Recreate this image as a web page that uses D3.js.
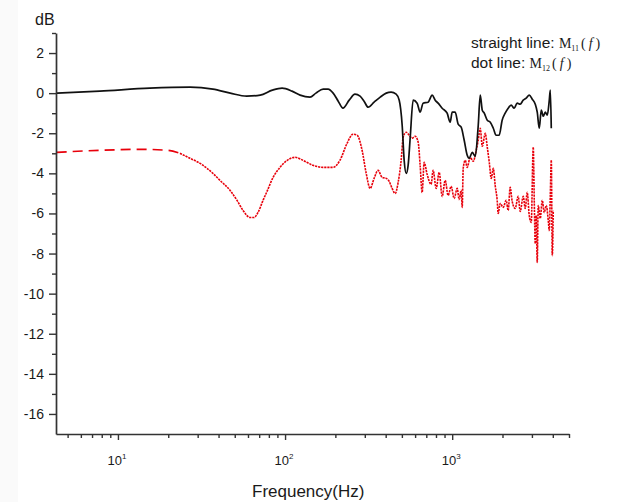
<!DOCTYPE html>
<html><head><meta charset="utf-8">
<script src="https://cdn.jsdelivr.net/npm/d3@7"></script>
<style>body{margin:0;background:#fff}svg{display:block}</style>
</head><body>
<svg id="chart" width="641" height="502"></svg>
<script>
// ---- data ----
const freqM11 = [4.3, 7.8, 15.5, 27, 37, 47, 59, 71, 84, 96, 110, 123, 141, 153, 169, 181, 194, 208, 222, 242, 262, 281, 297, 314, 341, 371, 403, 431, 462, 482, 502, 516, 531, 545, 561, 584, 617, 643, 670, 718, 759, 791, 824, 871, 933, 973, 1000, 1042, 1086, 1132, 1180, 1230, 1265, 1318, 1374, 1432, 1472, 1514, 1556, 1622, 1690, 1762, 1832, 1910, 1991, 2075, 2163, 2254, 2350, 2449, 2553, 2661, 2773, 2891, 3013, 3141, 3228, 3319, 3412, 3508, 3606, 3707, 3811, 3864, 3917];
const dbM11 = [0, 0.1, 0.25, 0.3, 0.2, 0, -0.15, -0.1, 0.15, 0.25, 0.1, -0.1, -0.2, 0, 0.2, 0.2, 0, -0.4, -0.75, -0.35, -0.05, -0.15, -0.4, -0.7, -0.45, -0.2, 0, 0.05, -0.05, -0.35, -1.6, -3.35, -4.0, -3.6, -2.2, -0.35, -0.5, -0.95, -0.5, -0.45, -0.1, -0.35, -0.5, -0.75, -1.0, -1.45, -0.95, -0.95, -1.55, -1.7, -2.35, -3.1, -3.25, -2.95, -3.15, -1.6, -0.1, -0.85, -1.0, -1.35, -1.45, -1.75, -2.1, -2.1, -1.35, -1.0, -0.75, -0.6, -0.75, -0.5, -0.55, -0.35, -0.25, -0.1, -0.3, -0.55, -0.95, -1.75, -0.85, -1.15, -0.95, -1.1, -0.35, 0.15, -1.75];
const freqM12 = [4.3, 7.8, 13.5, 19.7, 23.5, 27, 31, 37, 40.8, 46.9, 51.6, 56.1, 61.7, 65.2, 68.9, 73.8, 78, 84.8, 93.3, 103, 115, 128, 147, 169, 194, 213, 235, 255, 270, 289, 305, 323, 341, 360, 381, 403, 420, 437, 456, 475, 495, 509, 531, 553, 576, 600, 626, 643, 661, 680, 708, 748, 769, 802, 836, 871, 908, 946, 986, 1028, 1071, 1101, 1132, 1148, 1164, 1197, 1230, 1282, 1336, 1393, 1432, 1472, 1514, 1577, 1622, 1667, 1713, 1762, 1808, 1859, 1885, 1938, 2019, 2104, 2163, 2223, 2286, 2382, 2483, 2553, 2661, 2735, 2812, 2891, 2972, 3055, 3098, 3141, 3184, 3228, 3273, 3365, 3459, 3556, 3655, 3758, 3811, 3864, 3917, 3971, 4027];
const dbM12 = [-2.95, -2.85, -2.8, -2.85, -3.0, -3.25, -3.5, -4.0, -4.35, -4.85, -5.35, -5.85, -6.2, -6.2, -5.95, -5.35, -4.9, -4.2, -3.7, -3.35, -3.2, -3.35, -3.6, -3.7, -3.7, -3.35, -2.5, -2.05, -2.1, -2.85, -3.95, -4.75, -4.25, -3.85, -4.2, -4.25, -4.4, -4.75, -5.0, -4.45, -3.35, -2.2, -1.95, -2.1, -2.25, -2.15, -2.45, -3.6, -4.95, -3.45, -4.05, -4.55, -3.85, -4.75, -3.95, -5.15, -4.35, -5.1, -4.65, -5.25, -4.75, -5.3, -4.85, -5.7, -3.75, -3.35, -3.7, -3.2, -3.4, -2.85, -2.35, -1.75, -2.65, -2.0, -2.7, -3.45, -4.25, -3.75, -4.6, -5.35, -6.0, -5.5, -5.7, -5.35, -5.85, -4.7, -5.4, -5.75, -5.15, -5.9, -5.15, -5.75, -4.95, -6.1, -6.45, -2.7, -5.35, -7.5, -6.1, -8.45, -5.6, -6.25, -5.35, -5.95, -5.6, -6.35, -6.85, -5.1, -3.35, -8.1, -5.85];
const m12LongDashEnd = 23.5; // frequency where the coarse dashes turn into fine dots

const xDomain = [4.26, 5000];
const yDomain = [-17, 3];
const yMajorTicks = [2, 0, -2, -4, -6, -8, -10, -12, -14, -16];
const yMinorTicks = [3, 1, -1, -3, -5, -7, -9, -11, -13, -15];
const xMajorTicks = [10, 100, 1000];
const xMajorExponents = ["1", "2", "3"];
const xMinorTicks = [5, 6, 7, 8, 9, 20, 30, 40, 50, 60, 70, 80, 90, 200, 300, 400, 500, 600, 700, 800, 900, 2000, 3000, 4000, 5000];
const yTitle = "dB";
const xTitle = "Frequency(Hz)";
const legendPrefixes = ["straight line: ", "dot line: "];
const legendSubs = ["11", "12"];

// ---- drawing ----
const svg = d3.select("#chart");
const FONT = "'Liberation Sans', Arial, Helvetica, sans-serif";
const SERIF = "'Liberation Serif', 'Times New Roman', serif";
const axisCol = "#333";
const textCol = "#1a1a1a";

const x = d3.scaleLog().domain(xDomain).range([56, 569]);
const y = d3.scaleLinear().domain(yDomain).range([434, 33]);

svg.append("rect").attr("x", 0).attr("y", 0).attr("width", 641).attr("height", 502).attr("fill", "#fff");
svg.append("rect").attr("x", 0).attr("y", 0).attr("width", 18).attr("height", 502).attr("fill", "#fafafa");

// lines
const line = d3.line().x(d => x(d[0])).y(d => y(d[1])).curve(d3.curveMonotoneX);
const m11 = freqM11.map((f, i) => [f, dbM11[i]]);
const m12 = freqM12.map((f, i) => [f, dbM12[i]]);
const m12a = m12.filter(d => d[0] <= m12LongDashEnd);
const m12b = m12.filter(d => d[0] >= m12LongDashEnd);

svg.append("path").attr("d", line(m12a)).attr("fill", "none")
  .attr("stroke", "#e8000b").attr("stroke-width", 1.7).attr("stroke-dasharray", "10,6");
svg.append("path").attr("d", line(m12b)).attr("fill", "none")
  .attr("stroke", "#e8000b").attr("stroke-width", 1.6).attr("stroke-dasharray", "2.2,0.9");
svg.append("path").attr("d", line(m11)).attr("fill", "none")
  .attr("stroke", "#111").attr("stroke-width", 1.7);

// y axis
const gy = svg.append("g").attr("transform", "translate(56,0)");
gy.call(d3.axisLeft(y).tickValues(yMajorTicks).tickSize(7).tickSizeOuter(0).tickPadding(5).tickFormat(d => String(d)));
gy.append("g").call(d3.axisLeft(y).tickValues(yMinorTicks).tickSize(4).tickSizeOuter(0).tickFormat(""))
  .select(".domain").remove();
gy.selectAll("text").attr("font-family", FONT).attr("font-size", 14).attr("fill", textCol);

// x axis
const gx = svg.append("g").attr("transform", "translate(0,434)");
gx.call(d3.axisBottom(x).tickValues(xMajorTicks).tickSize(6).tickSizeOuter(0).tickFormat(""));
gx.append("g").call(d3.axisBottom(x).tickValues(xMinorTicks).tickSize(4).tickSizeOuter(0).tickFormat(""))
  .select(".domain").remove();
xMajorTicks.forEach((v, i) => {
  const t = gx.append("text").attr("x", x(v) - 1).attr("y", 31).attr("text-anchor", "middle")
    .attr("font-family", FONT).attr("font-size", 13).attr("fill", textCol);
  t.append("tspan").text("10");
  t.append("tspan").attr("dy", -6).attr("font-size", 8).text(xMajorExponents[i]);
});

svg.selectAll(".domain").attr("stroke", axisCol).attr("stroke-width", 1.7);
svg.selectAll(".tick line").attr("stroke", axisCol).attr("stroke-width", 1.4);

// titles
svg.append("text").attr("x", 35).attr("y", 25).attr("font-family", FONT).attr("font-size", 16)
  .attr("fill", textCol).text(yTitle);
svg.append("text").attr("x", 252).attr("y", 497).attr("font-family", FONT).attr("font-size", 17)
  .attr("fill", textCol).text(xTitle);

// legend text
legendPrefixes.forEach((p, i) => {
  const t = svg.append("text").attr("x", 471).attr("y", 48 + i * 20)
    .attr("font-family", FONT).attr("font-size", 15.5).attr("fill", textCol);
  t.append("tspan").text(p);
  t.append("tspan").attr("font-family", SERIF).attr("font-size", 14).text("M");
  t.append("tspan").attr("font-family", SERIF).attr("font-size", 8).attr("dy", 3).text(legendSubs[i]);
  t.append("tspan").attr("font-family", SERIF).attr("font-size", 14).attr("dy", -3).attr("dx", 2).text("(");
  t.append("tspan").attr("font-family", SERIF).attr("font-style", "italic").attr("font-size", 14).attr("dx", 3).text("f");
  t.append("tspan").attr("font-family", SERIF).attr("font-size", 14).attr("dx", 3).text(")");
});
</script>
</body></html>
